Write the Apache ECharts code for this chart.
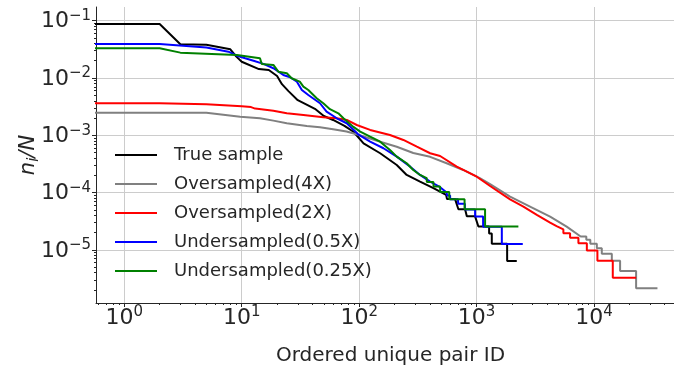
<!DOCTYPE html>
<html>
<head>
<meta charset="utf-8">
<script src="https://cdn.jsdelivr.net/npm/echarts@6/dist/echarts.min.js"></script>
<style>
  html, body { margin: 0; padding: 0; background: #fff; }
  #chart { width: 674px; height: 373px; }
</style>
</head>
<body>
<div id="chart"></div>
<script>
// rank -> n_i/N
const trueSample = [[0.5, 0.0875], [2, 0.0875], [3, 0.0387], [5, 0.038], [8, 0.0317], [9, 0.0236], [10, 0.0192],
  [14, 0.0143], [17, 0.0138], [20, 0.0108], [22, 0.0078], [25, 0.0059], [30, 0.0041], [35, 0.0035], [42, 0.0029],
  [50, 0.00217], [60, 0.00185], [75, 0.00146], [90, 0.00114], [95, 0.001], [109, 0.000724], [151, 0.000485],
  [209, 0.000303], [254, 0.000203], [330, 0.000155], [429, 0.000119], [550, 0.000091], [560, 0.0000768],
  [656, 0.0000768], [700, 0.0000512], [798, 0.0000512], [826, 0.0000384], [971, 0.0000384], [1036, 0.0000256],
  [1278, 0.0000256], [1279, 0.0000192], [1347, 0.0000192], [1348, 0.0000128], [1820, 0.0000128],
  [1821, 0.0000064], [2199, 0.0000064]]

const over4x = [[0.5, 2.48e-3], [5, 2.48e-3], [9.7, 2.11e-3], [14.3, 1.98e-3], [18.6, 1.8e-3], [24.2, 1.62e-3],
  [35.8, 1.45e-3], [46.4, 1.38e-3], [60, 1.27e-3], [78, 1.16e-3], [95, 1.04e-3], [151, 7.7e-4], [209, 6.3e-4],
  [289, 4.9e-4], [402, 4.2e-4], [556, 3.25e-4], [770, 2.48e-4], [1066, 1.78e-4], [1303, 1.4e-4], [1928, 8.5e-5],
  [2853, 5.7e-5], [4228, 3.8e-5], [5850, 2.54e-5], [7700, 1.71e-5], [8600, 1.71e-5], [8601, 1.5e-5],
  [9300, 1.5e-5], [9301, 1.28e-5], [10570, 1.28e-5], [10571, 1.07e-5], [11650, 1.07e-5], [11651, 8.56e-6],
  [14180, 8.56e-6], [14181, 6.42e-6], [16680, 6.42e-6], [16681, 4.28e-6], [22830, 4.28e-6], [22831, 2.14e-6],
  [34700, 2.14e-6]]

const over2x = [[0.5, 3.62e-3], [2, 3.62e-3], [5, 3.48e-3], [10, 3.2e-3], [12, 3.1e-3], [13, 2.92e-3],
  [18.6, 2.69e-3], [24.2, 2.42e-3], [33.5, 2.26e-3], [49.5, 2.06e-3], [64.5, 1.98e-3], [78.4, 1.85e-3],
  [95.4, 1.51e-3], [124, 1.24e-3], [183, 1.01e-3], [238, 8.28e-4], [310, 6.32e-4], [402, 4.85e-4], [489, 4.35e-4],
  [678, 2.83e-4], [1004, 1.89e-4], [1303, 1.3e-4], [1928, 7.6e-5], [2504, 5.68e-5], [3258, 4.07e-5],
  [4228, 2.98e-5], [4800, 2.59e-5], [5485, 2.27e-5], [5486, 1.94e-5], [6256, 1.94e-5], [6257, 1.62e-5],
  [7365, 1.62e-5], [7366, 1.3e-5], [8690, 1.3e-5], [8691, 9.72e-6], [10690, 9.72e-6], [10691, 6.48e-6],
  [14450, 6.48e-6], [14451, 3.24e-6], [22840, 3.24e-6]]

const under05x = [[0.5, 3.92e-2], [2, 3.92e-2], [5, 3.4e-2], [7.7, 2.88e-2], [9.1, 2.45e-2], [10.7, 2.21e-2],
  [12.6, 2.0e-2], [15.3, 1.76e-2], [18.6, 1.48e-2], [22.6, 1.13e-2], [25.8, 1.03e-2], [29.5, 8.61e-3],
  [32.5, 6.17e-3], [36.9, 5.05e-3], [46.4, 3.62e-3], [52.8, 2.58e-3], [64.5, 1.98e-3], [78.4, 1.62e-3],
  [98, 1.04e-3], [124, 7.73e-4], [161, 5.93e-4], [209, 4.24e-4], [272, 2.83e-4], [330, 2.03e-4], [402, 1.55e-4],
  [489, 1.24e-4], [556, 1.0e-4], [560, 8.9e-5], [595, 8.9e-5], [596, 7.62e-5], [695, 7.62e-5], [696, 6.35e-5],
  [795, 6.35e-5], [796, 5.08e-5], [971, 5.08e-5], [972, 3.81e-5], [1136, 3.81e-5], [1137, 2.54e-5],
  [1640, 2.54e-5], [1641, 1.27e-5], [2474, 1.27e-5]]

const under025x = [[0.5, 3.3e-2], [2, 3.3e-2], [3, 2.77e-2], [9.1, 2.52e-2], [14.3, 2.21e-2], [14.8, 1.76e-2],
  [18.6, 1.69e-2], [20.5, 1.29e-2], [24.2, 1.21e-2], [26.6, 9.89e-3], [31.2, 8.61e-3], [33.5, 7.05e-3],
  [36.9, 6.17e-3], [43.5, 4.43e-3], [49.5, 3.62e-3], [56.4, 2.85e-3], [66.5, 2.42e-3], [73.5, 1.98e-3],
  [89.4, 1.4e-3], [102, 1.16e-3], [124, 9.46e-4], [151, 7.73e-4], [183, 5.53e-4], [209, 4.24e-4], [254, 3.25e-4],
  [289, 2.48e-4], [330, 2.03e-4], [376, 1.785e-4], [377, 1.53e-4], [429, 1.53e-4], [430, 1.275e-4],
  [489, 1.275e-4], [490, 1.02e-4], [585, 1.02e-4], [586, 7.65e-5], [790, 7.65e-5], [791, 5.1e-5],
  [1181, 5.1e-5], [1182, 2.55e-5], [2270, 2.55e-5]]

const seriesNames = ['True sample', 'Oversampled(4X)', 'Oversampled(2X)', 'Undersampled(0.5X)', 'Undersampled(0.25X)']
const seriesColors = ['#000000', '#808080', '#ff0000', '#0000ff', '#008000']
const seriesData = [trueSample, over4x, over2x, under05x, under025x]

const xMajorTicks = [1, 10, 100, 1000, 10000]
const yMajorTicks = [1e-5, 1e-4, 1e-3, 1e-2, 1e-1]
const xMin = 0.574
const xMax = 48000
const yMin = 1.18e-6
const yMax = 0.1734

const fontFamily = 'DejaVu Sans'
const textColor = '#262626'
const gridColor = '#cccccc'

// 2..9 x 10^k between lo and hi
function minorTicks(lo, hi) {
  const out = []
  for (let e = Math.floor(Math.log10(lo)); e <= Math.ceil(Math.log10(hi)); e++) {
    for (let m = 2; m <= 9; m++) {
      const v = m * Math.pow(10, e)
      if (v >= lo && v <= hi) out.push(v)
    }
  }
  return out
}

function powLabel(v) {
  const e = Math.round(Math.log10(v))
  return '{b|10}{s|' + (e < 0 ? '\u2212' + (-e) : e) + '}'
}

const labelRich = {
  b: { fontFamily, color: textColor, fontSize: 22, lineHeight: 24, padding: [12, 0, 0, 0], verticalAlign: 'bottom' },
  s: { fontFamily, color: textColor, fontSize: 15, lineHeight: 16, verticalAlign: 'top' },
}

const axisLineStyle = { color: textColor, width: 1 }

const chart = echarts.init(document.getElementById('chart'), null, { renderer: 'canvas' })

const option = {
  animation: false,
  textStyle: { fontFamily },
  grid: { left: 96, right: 0, top: 7, bottom: 70, containLabel: false, outerBoundsMode: 'none' },
  legend: {
    data: seriesNames,
    orient: 'vertical',
    left: 115,
    top: 145,
    icon: 'rect',
    itemWidth: 42,
    itemHeight: 2,
    itemGap: 9,
    padding: 0,
    selectedMode: false,
    textStyle: { fontFamily, fontSize: 18, color: textColor, lineHeight: 20, padding: [0, 0, 0, 12] },
  },
  xAxis: [
    {
      type: 'log',
      min: xMin,
      max: xMax,
      position: 'bottom',
      name: 'Ordered unique pair ID',
      nameLocation: 'middle',
      nameGap: 43,
      nameMoveOverlap: false,
      nameTextStyle: { fontFamily, fontSize: 20, color: textColor, padding: [0, 0, 0, 11] },
      axisLine: { show: true, onZero: false, lineStyle: axisLineStyle },
      axisTick: { show: true, customValues: xMajorTicks, length: 4, lineStyle: axisLineStyle },
      axisLabel: { customValues: xMajorTicks, margin: 2, formatter: powLabel, rich: labelRich },
      splitLine: { show: true, lineStyle: { color: gridColor, width: 1 } },
    },
    {
      type: 'log',
      min: xMin,
      max: xMax,
      position: 'bottom',
      axisLine: { show: false },
      axisTick: { show: true, customValues: minorTicks(xMin, xMax), length: 2, lineStyle: axisLineStyle },
      axisLabel: { show: false },
      splitLine: { show: false },
    },
  ],
  yAxis: [
    {
      type: 'log',
      min: yMin,
      max: yMax,
      position: 'left',
      name: '{n|n}{i|i}{n|/N}',
      nameLocation: 'middle',
      nameGap: 56,
      nameMoveOverlap: false,
      nameTextStyle: {
        rich: {
          n: { fontFamily, fontStyle: 'italic', fontSize: 21, lineHeight: 22, color: textColor, verticalAlign: 'top' },
          i: { fontFamily, fontStyle: 'italic', fontSize: 15, lineHeight: 16, color: textColor, verticalAlign: 'top', padding: [9, 0, 0, 0] },
        },
      },
      axisLine: { show: true, onZero: false, lineStyle: axisLineStyle },
      axisTick: { show: true, customValues: yMajorTicks, length: 4, lineStyle: axisLineStyle },
      axisLabel: { customValues: yMajorTicks, margin: 5, formatter: powLabel, rich: labelRich },
      splitLine: { show: true, lineStyle: { color: gridColor, width: 1 } },
    },
    {
      type: 'log',
      min: yMin,
      max: yMax,
      position: 'left',
      axisLine: { show: false },
      axisTick: { show: true, customValues: minorTicks(yMin, yMax), length: 2, lineStyle: axisLineStyle },
      axisLabel: { show: false },
      splitLine: { show: false },
    },
  ],
  series: seriesNames.map((name, i) => ({
    name,
    type: 'line',
    xAxisIndex: 0,
    yAxisIndex: 0,
    data: seriesData[i],
    showSymbol: false,
    symbol: 'none',
    clip: true,
    color: seriesColors[i],
    lineStyle: { color: seriesColors[i], width: 2 },
    emphasis: { disabled: true },
  })),
}

chart.setOption(option)
</script>
</body>
</html>
